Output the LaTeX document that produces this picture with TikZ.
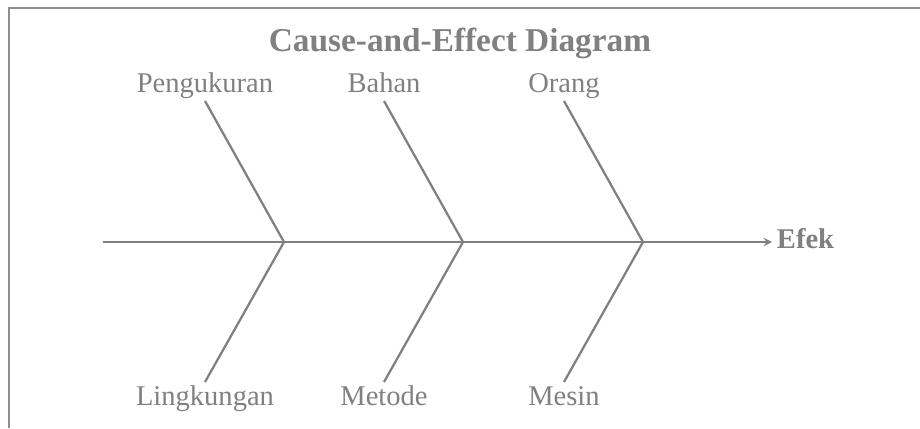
\documentclass[tikz,border=0pt]{standalone}
\usepackage{fontspec}
\setmainfont{Liberation Serif}
\definecolor{bonegray}{RGB}{128,128,128}
\begin{document}
\begin{tikzpicture}[
    bone/.style={bonegray,line width=1.6pt},
    lbl/.style={text=bonegray,anchor=base,font=\fontsize{20.3}{24}\selectfont}]
        \useasboundingbox(0,0)rectangle(23,10.7);
        \draw[line width=1.5pt,bonegray!90](0.225,0)--(0.225,10.5)--(23,10.5);
        \node[lbl,font=\bfseries\fontsize{23.7}{28}\selectfont](titel)at(11.5,9.4){Cause-and-Effect Diagram};
        \coordinate(s)at(2.575,4.65);
        \node[lbl,font=\bfseries\fontsize{20.3}{24}\selectfont,anchor=base west](efek)at(19.3,4.5){Efek};
        \draw[bone,-stealth](s)--(efek.west|-s);
        \foreach \n/\x/\t/\b in {1/7.1/Pengukuran/Lingkungan,2/11.575/Bahan/Metode,3/16.075/Orang/Mesin}{
        \coordinate(j\n)at(\x,4.65);
        \coordinate(u\n)at(\x-1.975,8.175);
        \coordinate(d\n)at(\x-1.975,1.15);
        \node[lbl](top\n)at(\x-1.975,8.375){\t};
        \node[lbl](bot\n)at(\x-1.975,0.575){\b};
        \draw[bone](u\n)--(j\n)--(d\n);
        }
    \end{tikzpicture}
\end{document}
